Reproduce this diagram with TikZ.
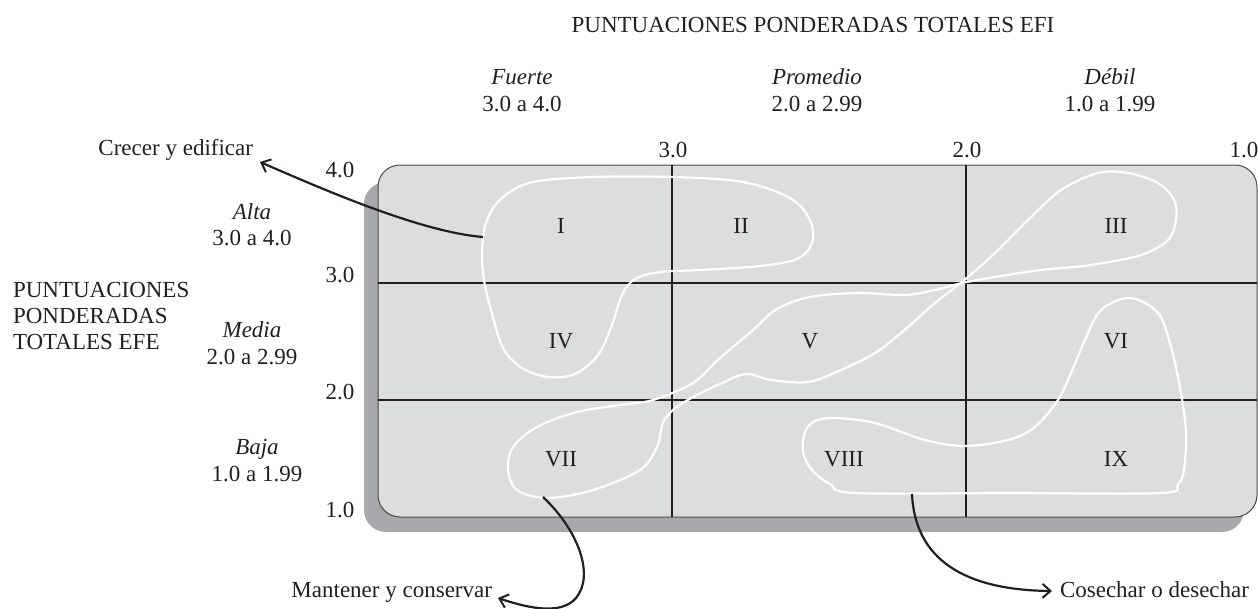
\documentclass[tikz,border=0pt]{standalone}
\usepackage{fontspec}
\setmainfont{Liberation Serif}
\usetikzlibrary{arrows.meta}
\definecolor{ink}{RGB}{35,31,32}
\definecolor{boxfill}{RGB}{220,221,223}
\definecolor{shadowc}{RGB}{167,169,172}
\definecolor{boxedge}{RGB}{85,72,66}
\tikzset{
  lbl/.style={inner sep=0pt, outer sep=0pt, text=ink, font=\fontsize{23}{27}\selectfont, anchor=base},
  ilbl/.style={lbl, font=\fontsize{23}{27}\selectfont\itshape},
  gridline/.style={draw=ink, line width=2.4pt},
  blob/.style={draw=white, line width=2.2pt},
  arr/.style={draw=ink, line width=2.2pt, -{Straight Barb[length=8pt,width=14pt,line width=2pt]}}
}
\begin{document}
\begin{tikzpicture}[x=1pt,y=-1pt]
\useasboundingbox (0,0) rectangle (1258,608);
% shadow and box
\fill[shadowc, rounded corners=22pt] (364,182) rectangle (1244,532);
\filldraw[fill=boxfill, draw=boxedge, line width=1pt, rounded corners=22pt] (378,165) rectangle (1257,517);
% grid
\draw[gridline] (672,165) -- (672,517);
\draw[gridline] (966,165) -- (966,517);
\draw[gridline] (378,283) -- (1257,283);
\draw[gridline] (378,400) -- (1257,400);
% white blobs
\draw[blob] plot[smooth cycle, tension=0.55] coordinates {
 (482,250) (487,220) (503,197) (533,182) (593,177) (673,177) (743,182) (790,198) (810,220) (812,243) (797,259) (760,266) (700,270) (660,272) (635,279) (622,295) (612,325) (598,355) (575,374) (548,377) (522,368) (503,348) (491,310) (484,280)};
\draw[blob] plot[smooth cycle, tension=0.55] coordinates {
 (547,498) (593,490) (640,470) (657,447) (663,423) (673,410) (693,397) (720,384) (746,374) (771,380) (808,382) (841,370) (875,353) (901,333) (935,303) (962,282) (995,253) (1028,220) (1061,190) (1098,173) (1128,173) (1158,183) (1174,200) (1176,220) (1168,240) (1141,255) (1091,265) (1041,270) (995,277) (962,283) (935,290) (905,295) (858,293) (810,297) (777,309) (753,330) (720,358) (693,383) (653,400) (620,405) (577,412) (537,427) (513,447) (508,470) (517,490)};
\draw[blob] plot[smooth cycle, tension=0.55] coordinates {
 (1130,298) (1158,313) (1171,347) (1181,393) (1186,433) (1184,470) (1178,484) (1161,493) (1010,493) (855,493) (830,484) (812,470) (803,452) (805,432) (815,421) (835,418) (875,423) (925,440) (965,446) (1008,440) (1035,427) (1058,400) (1071,373) (1085,340) (1101,310)};
% cell labels
\node[lbl] (cI) at (561,233) {I};
\node[lbl] (cII) at (741,233) {II};
\node[lbl] (cIII) at (1116,233) {III};
\node[lbl] (cIV) at (561,348) {IV};
\node[lbl] (cV) at (810,348) {V};
\node[lbl] (cVI) at (1116,348) {VI};
\node[lbl] (cVII) at (561,466) {VII};
\node[lbl] (cVIII) at (844,466) {VIII};
\node[lbl] (cIX) at (1116,466) {IX};
% top labels
\node[lbl] (title) at (813,32) {PUNTUACIONES PONDERADAS TOTALES EFI};
\node[ilbl] (fuerte) at (522,84) {Fuerte};
\node[lbl] (fuerteR) at (522,111) {3.0 a 4.0};
\node[ilbl] (promedio) at (817,84) {Promedio};
\node[lbl] (promR) at (817,111) {2.0 a 2.99};
\node[ilbl] (debil) at (1110,84) {Débil};
\node[lbl] (debilR) at (1110,111) {1.0 a 1.99};
\node[lbl] (t3) at (673,157) {3.0};
\node[lbl] (t2) at (967,157) {2.0};
\node[lbl] (t1) at (1244,157) {1.0};
% left labels
\node[lbl] (l4) at (340,177) {4.0};
\node[lbl] (l3) at (340,282) {3.0};
\node[lbl] (l2) at (340,399) {2.0};
\node[lbl] (l1) at (340,517) {1.0};
\node[ilbl] (alta) at (252,219) {Alta};
\node[lbl] (altaR) at (252,245) {3.0 a 4.0};
\node[ilbl] (media) at (252,337) {Media};
\node[lbl] (mediaR) at (252,364) {2.0 a 2.99};
\node[ilbl] (baja) at (257,454) {Baja};
\node[lbl] (bajaR) at (257,481) {1.0 a 1.99};
\node[lbl, anchor=base west] (efe1) at (13,297) {PUNTUACIONES};
\node[lbl, anchor=base west] (efe2) at (13,323) {PONDERADAS};
\node[lbl, anchor=base west] (efe3) at (13,349) {TOTALES EFE};
% strategy labels
\node[lbl, anchor=base east] (crecer) at (253,155) {Crecer y edificar};
\node[lbl, anchor=base east] (mantener) at (492,597) {Mantener y conservar};
\node[lbl, anchor=base west] (cosechar) at (1060,597) {Cosechar o desechar};
% arrows
\coordinate (sI) at (483,237);
\coordinate (tipC) at (260,162);
\coordinate (sVII) at (543,497);
\coordinate (bendM) at (576,598);
\coordinate (tipM) at (498,598);
\coordinate (sVIII) at (912,494);
\coordinate (tipK) at (1052,591);
\draw[arr] (sI) .. controls (420,232) and (320,188) .. (tipC);
\draw[arr] (sVII) .. controls (578,530) and (595,575) .. (bendM) .. controls (560,617) and (522,606) .. (tipM);
\draw[arr] (sVIII) .. controls (915,560) and (965,590) .. (tipK);
\end{tikzpicture}
\end{document}
